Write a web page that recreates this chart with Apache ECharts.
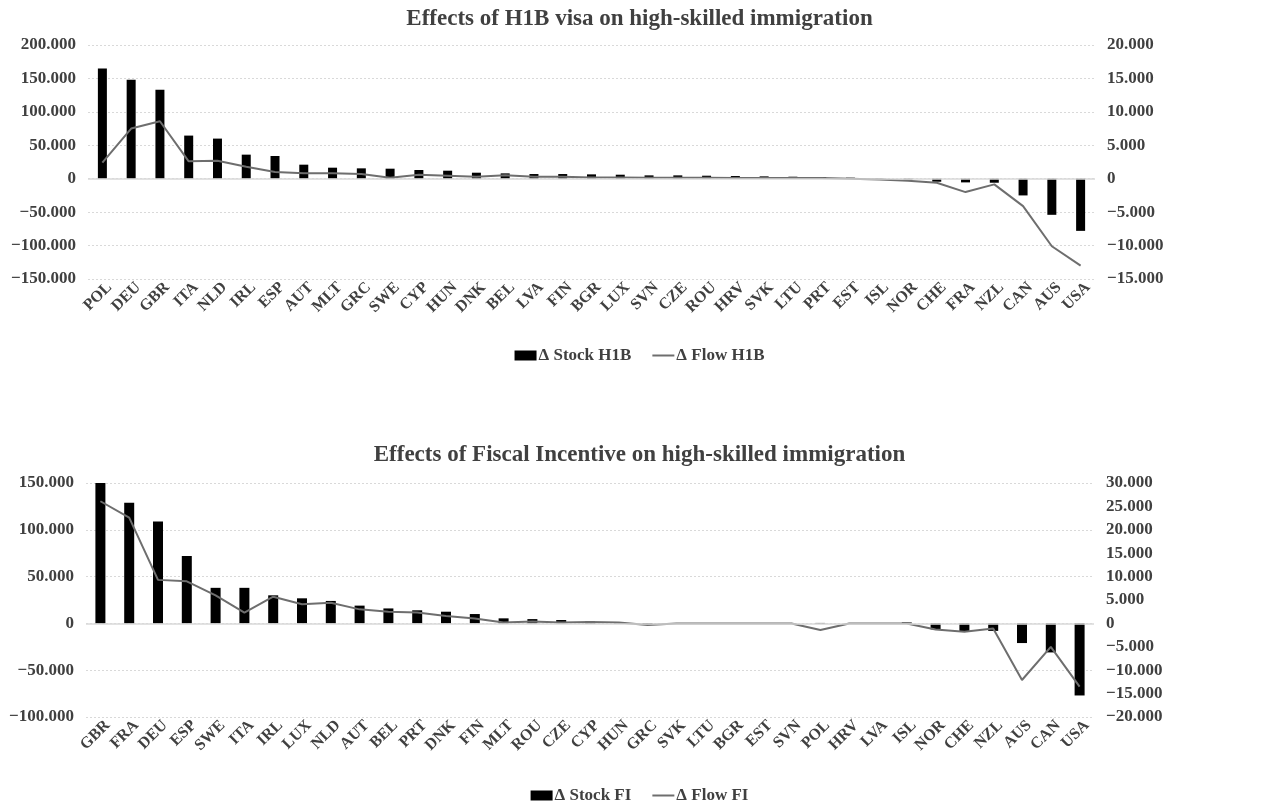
<!DOCTYPE html>
<html>
<head>
<meta charset="utf-8">
<script src="https://cdn.jsdelivr.net/npm/echarts@6/dist/echarts.min.js"></script>
<style>html,body{margin:0;padding:0;background:#fff}#c{width:1279px;height:802px}</style>
</head>
<body>
<div id="c"></div>
<script>
var titleTop = 'Effects of H1B visa on high-skilled immigration';
var titleBottom = 'Effects of Fiscal Incentive on high-skilled immigration';

var catsH1B = ['POL','DEU','GBR','ITA','NLD','IRL','ESP','AUT','MLT','GRC','SWE','CYP','HUN','DNK','BEL','LVA','FIN','BGR','LUX','SVN','CZE','ROU','HRV','SVK','LTU','PRT','EST','ISL','NOR','CHE','FRA','NZL','CAN','AUS','USA'];
var stockH1B = [165000,148000,133000,64500,60000,36000,34000,21000,16500,15500,15000,13000,12000,9000,8000,7000,7000,6500,6000,5000,5000,4500,4000,3500,3000,2500,1500,500,-1000,-4500,-5500,-6000,-25000,-54000,-78000];
var flowH1B = [2400,7500,8600,2600,2700,1800,1000,800,800,700,150,600,450,300,500,300,300,200,200,150,150,150,100,100,100,100,0,-100,-300,-600,-2000,-850,-4100,-10100,-13000];

var catsFI = ['GBR','FRA','DEU','ESP','SWE','ITA','IRL','LUX','NLD','AUT','BEL','PRT','DNK','FIN','MLT','ROU','CZE','CYP','HUN','GRC','SVK','LTU','BGR','EST','SVN','POL','HRV','LVA','ISL','NOR','CHE','NZL','AUS','CAN','USA'];
var stockFI = [150000,129000,109000,72000,38000,38000,30000,26800,24000,19000,16000,14000,12500,10000,5400,4600,3600,2000,1000,-1500,300,300,300,300,300,500,300,300,1000,-6400,-9000,-8000,-21000,-31000,-77000];
var flowFI = [26100,22600,9300,9000,6000,2300,5700,4100,4400,3000,2500,2350,1600,1070,200,400,200,300,200,-350,0,0,0,0,0,-1400,0,0,0,-1300,-1800,-1100,-12100,-5000,-13500];

var leftTicksTop = {min:-150000, max:200000, interval:50000};
var rightTicksTop = {min:-15000, max:20000, interval:5000};
var leftTicksBottom = {min:-100000, max:150000, interval:50000};
var rightTicksBottom = {min:-20000, max:30000, interval:5000};

function fmt(v){
  if (v === 0) return '0';
  var a = Math.abs(Math.round(v)).toString();
  var out = '';
  while (a.length > 3){ out = '.' + a.slice(-3) + out; a = a.slice(0, -3); }
  out = a + out;
  return (v < 0 ? '\u2212' : '') + out;
}

var FONT = 'Liberation Serif';
var TXT = '#404040';
var GRID = '#d9d9d9';

function yLeft(gi, t){
  return {type:'value', gridIndex:gi, position:'left', min:t.min, max:t.max, interval:t.interval,
    axisLine:{show:false}, axisTick:{show:false},
    splitLine:{show:true, lineStyle:{color:GRID, type:[2,2], width:1}},
    axisLabel:{formatter:fmt, color:TXT, fontFamily:FONT, fontWeight:'bold', fontSize:17, margin:12}};
}
function yRight(gi, t){
  return {type:'value', gridIndex:gi, position:'right', min:t.min, max:t.max, interval:t.interval,
    axisLine:{show:false}, axisTick:{show:false}, splitLine:{show:false},
    axisLabel:{formatter:fmt, color:TXT, fontFamily:FONT, fontWeight:'bold', fontSize:17, margin:12}};
}
function xCat(gi, cats){
  return {type:'category', gridIndex:gi, data:cats, axisLine:{show:false, onZero:false}, axisTick:{show:false},
    axisLabel:{rotate:45, interval:0, color:TXT, fontFamily:FONT, fontWeight:'bold', fontSize:16, margin:13, padding:[0,-10,0,0]}};
}
var zeroLine = {silent:true, symbol:['none','none'], label:{show:false},
  lineStyle:{color:GRID, type:'solid', width:1.5}, data:[{yAxis:0}]};
var legendText = {fontFamily:FONT, fontWeight:'bold', fontSize:17, color:TXT, padding:[0,0,0,-3]};

var option = {
  animation:false,
  backgroundColor:'#fff',
  title:[
    {text:titleTop, left:'center', top:3, textStyle:{fontFamily:FONT, fontWeight:'bold', fontSize:23, color:TXT}},
    {text:titleBottom, left:'center', top:439, textStyle:{fontFamily:FONT, fontWeight:'bold', fontSize:23, color:TXT}}
  ],
  legend:[
    {top:342, left:'center', itemWidth:22, itemHeight:10, itemGap:20,
     data:[{name:'\u0394 Stock H1B', icon:'rect'}, {name:'\u0394 Flow H1B', itemStyle:{opacity:0}}],
     textStyle:legendText},
    {top:782, left:'center', itemWidth:22, itemHeight:10, itemGap:20,
     data:[{name:'\u0394 Stock FI', icon:'rect'}, {name:'\u0394 Flow FI', itemStyle:{opacity:0}}],
     textStyle:legendText}
  ],
  grid:[
    {left:88, right:184, top:45, height:234},
    {left:86, right:185, top:483, height:234}
  ],
  xAxis:[xCat(0, catsH1B), xCat(1, catsFI)],
  yAxis:[yLeft(0, leftTicksTop), yRight(0, rightTicksTop), yLeft(1, leftTicksBottom), yRight(1, rightTicksBottom)],
  series:[
    {name:'\u0394 Stock H1B', type:'bar', xAxisIndex:0, yAxisIndex:0, data:stockH1B, barWidth:9,
     itemStyle:{color:'#000'}, markLine:zeroLine},
    {name:'\u0394 Flow H1B', type:'line', xAxisIndex:0, yAxisIndex:1, data:flowH1B, symbol:'none',
     lineStyle:{color:'#6e6e6e', width:2}, itemStyle:{color:'#6e6e6e'}, z:3},
    {name:'\u0394 Stock FI', type:'bar', xAxisIndex:1, yAxisIndex:2, data:stockFI, barWidth:10,
     itemStyle:{color:'#000'}, markLine:zeroLine},
    {name:'\u0394 Flow FI', type:'line', xAxisIndex:1, yAxisIndex:3, data:flowFI, symbol:'none',
     lineStyle:{color:'#6e6e6e', width:2}, itemStyle:{color:'#6e6e6e'}, z:3}
  ]
};
echarts.init(document.getElementById('c')).setOption(option);
</script>
</body>
</html>
